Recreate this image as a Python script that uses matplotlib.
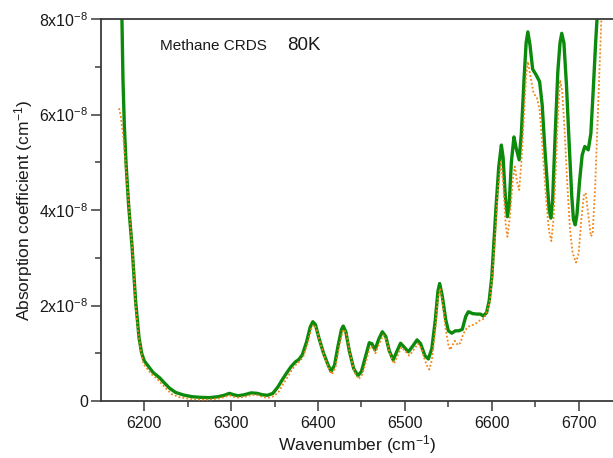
import matplotlib
matplotlib.use("Agg")
import matplotlib.pyplot as plt
import matplotlib.ticker as mticker

# ── Data (absorption in units of 1e-8 cm^-1) ──────────────────────────────────

green_x = [6173.5, 6174.3, 6175.5, 6177, 6179, 6182, 6186, 6190, 6192, 6194,
           6197, 6200, 6205, 6210, 6214, 6218, 6222, 6229, 6236, 6245,
           6255, 6264, 6275, 6285, 6292, 6298, 6303, 6308, 6315, 6323,
           6330, 6336, 6342, 6348, 6354, 6359, 6364, 6369, 6374, 6378,
           6382, 6387, 6391, 6394, 6397, 6401, 6406, 6411, 6415, 6419,
           6423, 6427, 6429, 6432, 6436, 6441, 6446, 6450, 6455, 6459,
           6462, 6465.5, 6470, 6474, 6478, 6482, 6486.5, 6491, 6495, 6499,
           6504, 6509, 6514, 6518, 6523, 6527, 6531, 6535, 6538, 6540,
           6543, 6547, 6550, 6554, 6558, 6562, 6566, 6570, 6573, 6578,
           6583, 6587, 6590, 6594, 6597, 6600, 6602, 6605, 6608, 6611,
           6613, 6615.5, 6618, 6620, 6622.5, 6625.5, 6628, 6631.5, 6634, 6637,
           6639.5, 6641.5, 6644, 6647, 6651, 6655, 6658, 6661, 6664, 6666,
           6668, 6670, 6673, 6676, 6678.5, 6680.5, 6683, 6686, 6689, 6692,
           6694, 6696, 6698, 6701, 6704, 6707, 6711, 6714, 6717, 6719.5,
           6721.5, 6723]
green_y = [8.3, 8.0, 6.72, 5.8, 4.98, 4.1, 3.22, 2.1, 1.7, 1.32,
           1.0, 0.84, 0.72, 0.6, 0.54, 0.48, 0.4, 0.27, 0.18, 0.126,
           0.09, 0.077, 0.07, 0.09, 0.12, 0.16, 0.13, 0.11, 0.13, 0.17,
           0.16, 0.13, 0.12, 0.16, 0.3, 0.45, 0.59, 0.72, 0.82, 0.87,
           0.97, 1.25, 1.55, 1.66, 1.6, 1.32, 1.02, 0.78, 0.62, 0.75,
           1.15, 1.5, 1.57, 1.45, 1.05, 0.68, 0.53, 0.62, 0.95, 1.22,
           1.2, 1.07, 1.3, 1.45, 1.35, 1.05, 0.86, 1.05, 1.21, 1.13,
           1.03, 1.15, 1.28, 1.2, 0.95, 0.88, 1.1, 1.7, 2.3, 2.46,
           2.2, 1.7, 1.47, 1.42, 1.47, 1.47, 1.5, 1.77, 1.87, 1.83,
           1.82, 1.82, 1.78, 1.85, 2.1, 2.6, 3.2, 4.1, 4.9, 5.36,
           5.1, 4.3, 3.86, 4.1, 5.0, 5.53, 5.3, 5.05, 5.6, 6.7,
           7.5, 7.73, 7.45, 6.95, 6.83, 6.69, 6.2, 5.3, 4.5, 4.0,
           3.83, 4.2, 5.6, 6.9, 7.5, 7.70, 7.5, 6.6, 5.4, 4.3,
           3.8, 3.69, 3.9, 4.6, 5.15, 5.33, 5.26, 5.6, 6.6, 7.5,
           8.1, 8.6]

orange_x = [6171, 6173, 6176, 6179, 6183, 6187, 6190, 6193, 6196, 6199,
            6204, 6209, 6214, 6219, 6225, 6232, 6240, 6250, 6262, 6275,
            6285, 6292, 6298, 6304, 6309, 6316, 6324, 6331, 6337, 6343,
            6349, 6355, 6360, 6365, 6370, 6375, 6379, 6383, 6388, 6392,
            6395, 6398, 6402, 6407, 6412, 6416, 6420, 6424, 6428, 6430,
            6433, 6437, 6442, 6447, 6451, 6456, 6460, 6463, 6466, 6471,
            6475, 6479, 6483, 6487.5, 6492, 6496, 6500, 6505, 6510, 6515,
            6519, 6523, 6526, 6528, 6531, 6535, 6538, 6540.5, 6543, 6547,
            6550, 6552, 6555, 6557.5, 6561, 6564, 6567, 6571, 6575, 6579,
            6583, 6587, 6591, 6595, 6598, 6601, 6604, 6607, 6610.5, 6613,
            6616, 6618, 6621, 6624, 6626.5, 6629, 6631.5, 6634, 6637, 6639.5,
            6641.5, 6644, 6648, 6652, 6655, 6658, 6661, 6664, 6666, 6668.5,
            6671, 6674, 6676.5, 6678.5, 6681, 6684, 6687, 6690, 6693, 6697,
            6700, 6703, 6706, 6708, 6711, 6714, 6716, 6719, 6722, 6724.5,
            6726.5]
orange_y = [6.13, 5.95, 5.5, 4.85, 3.9, 3.0, 2.0, 1.45, 1.05, 0.78,
            0.66, 0.55, 0.48, 0.38, 0.26, 0.14, 0.08, 0.05, 0.03, 0.03,
            0.05, 0.08, 0.12, 0.08, 0.07, 0.09, 0.13, 0.12, 0.08, 0.07,
            0.1, 0.2, 0.36, 0.5, 0.66, 0.77, 0.83, 0.93, 1.2, 1.5,
            1.6, 1.52, 1.25, 0.95, 0.7, 0.56, 0.7, 1.1, 1.45, 1.5,
            1.38, 0.98, 0.6, 0.46, 0.56, 0.88, 1.15, 1.12, 1.0, 1.22,
            1.38, 1.27, 0.97, 0.78, 0.97, 1.13, 1.05, 0.95, 1.07, 1.2,
            1.1, 0.85, 0.72, 0.66, 0.85, 1.5, 2.15, 2.36, 2.1, 1.5,
            1.18, 1.07, 1.18, 1.26, 1.17, 1.22, 1.4, 1.52, 1.58, 1.6,
            1.64, 1.7, 1.72, 1.9, 2.12, 2.7, 3.5, 4.4, 5.01, 4.6,
            3.7, 3.44, 3.9, 4.6, 4.91, 4.6, 4.42, 5.0, 6.0, 6.8,
            7.11, 6.85, 6.45, 6.34, 6.1, 5.4, 4.6, 3.9, 3.55, 3.35,
            3.8, 5.0, 6.1, 6.72, 6.5, 5.6, 4.5, 3.6, 3.1, 2.9,
            3.1, 3.8, 4.3, 4.36, 3.9, 3.45, 3.5, 4.5, 6.0, 7.3,
            8.2]

# ── Style ─────────────────────────────────────────────────────────────────────

COLOR_GREEN = "#0b8a0b"
COLOR_ORANGE = "#f08516"
COLOR_AXIS = "#3a3a3a"

plt.rcParams.update({
    "font.family": ["Liberation Sans", "DejaVu Sans"],
    "mathtext.default": "regular",
})

fig = plt.figure(figsize=(6.13, 4.58), dpi=100)
ax = fig.add_axes([101 / 613, 57 / 458, 1 - 101 / 613, 382 / 458])

ax.plot(green_x, green_y, color=COLOR_GREEN, lw=2.4, solid_joinstyle="round",
        solid_capstyle="round", zorder=2)
ax.plot(orange_x, orange_y, color=COLOR_ORANGE, lw=1.3, linestyle=(0, (1, 1.2)), zorder=3)

ax.set_xlim(6150.2, 6739.5)
ax.set_ylim(0, 8)

ax.xaxis.set_major_locator(mticker.MultipleLocator(100))
ax.xaxis.set_minor_locator(mticker.MultipleLocator(50))
ax.yaxis.set_major_locator(mticker.MultipleLocator(2))
ax.yaxis.set_minor_locator(mticker.MultipleLocator(1))


def y_fmt(v, _):
    if abs(v) < 1e-9:
        return "0"
    return f"{int(round(v))}x10$^{{-8}}$"


ax.yaxis.set_major_formatter(mticker.FuncFormatter(y_fmt))

ax.tick_params(axis="both", which="major", direction="out", length=7, width=1.1,
               color=COLOR_AXIS, labelsize=11.5, labelcolor="#1a1a1a")
ax.tick_params(axis="both", which="minor", direction="out", length=4, width=1.1,
               color=COLOR_AXIS)
ax.tick_params(axis="x", which="major", pad=4)
ax.tick_params(axis="y", which="major", pad=2)

for side in ["left", "bottom", "top"]:
    ax.spines[side].set_color(COLOR_AXIS)
    ax.spines[side].set_linewidth(1.3)
ax.spines["right"].set_visible(False)

ax.set_xlabel("Wavenumber (cm$^{-1}$)", fontsize=12.5, color="#1a1a1a", labelpad=1)
ax.set_ylabel("Absorption coefficient (cm$^{-1}$)", fontsize=12.5, color="#1a1a1a", labelpad=3)

ax.text(6218, 7.35, "Methane CRDS", fontsize=11, color="#1a1a1a", va="baseline")
ax.text(6365, 7.35, "80K", fontsize=13.5, color="#1a1a1a", va="baseline")

fig.savefig("out.png", dpi=100)
